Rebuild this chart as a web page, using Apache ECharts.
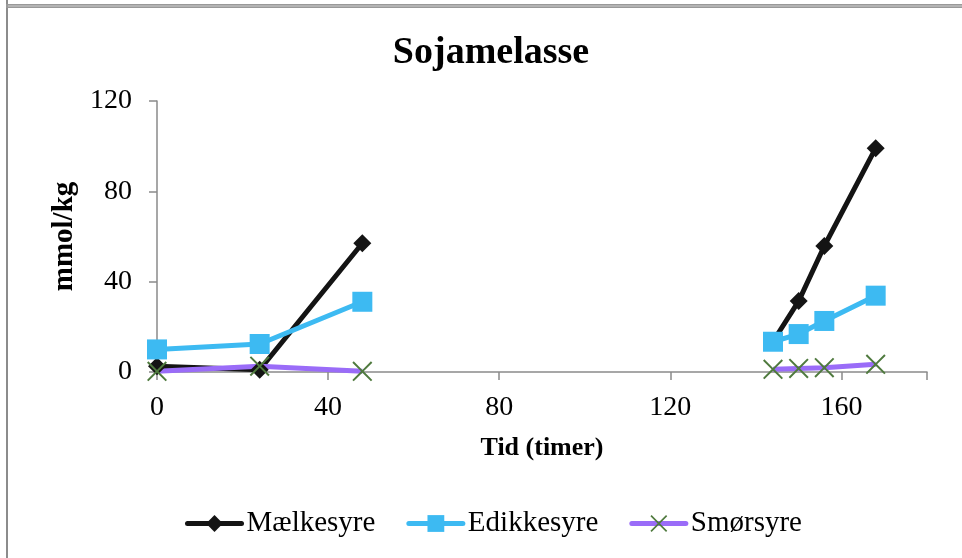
<!DOCTYPE html>
<html>
<head>
<meta charset="utf-8">
<script src="https://cdn.jsdelivr.net/npm/echarts@6/dist/echarts.min.js"></script>
<style>
  html, body { margin: 0; padding: 0; background: #fff; }
  #chart { width: 962px; height: 558px; }
</style>
</head>
<body>
<div id="chart"></div>
<script>
// Sampling times (hours); null marks the gap between the two sampling runs
const times = [0, 24, 48, null, 144, 150, 156, 168];
const maelkesyre = [2.5, 1, 57, null, 13.5, 31.4, 55.8, 99.1];
const edikkesyre = [10, 12.4, 31.1, null, 13.4, 16.8, 22.6, 33.8];
const smoersyre = [0.3, 2.6, 0.3, null, 1.2, 1.6, 1.9, 3.4];
const seriesNames = ['Mælkesyre', 'Edikkesyre', 'Smørsyre'];
const xTicks = [0, 40, 80, 120, 160];
const yTicks = [0, 40, 80, 120];

// Pair times with values; a null entry becomes '-' so the line breaks there
function pairs(values) {
  return times.map((t, i) => (t === null || values[i] === null) ? ['-', '-'] : [t, values[i]]);
}

const serif = '"Liberation Serif", "Times New Roman", serif';
const axisGray = '#8a8a8a';
const crossPath = 'path://M0,1.4L1.4,0L10,8.6L18.6,0L20,1.4L11.4,10L20,18.6L18.6,20L10,11.4L1.4,20L0,18.6L8.6,10Z';

const chart = echarts.init(document.getElementById('chart'), null, { renderer: 'canvas' });
chart.setOption({
  animation: false,
  backgroundColor: '#fff',
  title: {
    text: 'Sojamelasse',
    left: 486,
    textAlign: 'center',
    top: 29,
    textStyle: { fontFamily: serif, fontSize: 38, fontWeight: 'bold', color: '#000' }
  },
  legend: {
    data: seriesNames,
    left: 185,
    top: 509,
    padding: 0,
    itemWidth: 54,
    itemHeight: 21,
    itemGap: 31,
    lineStyle: { width: 5, cap: 'round' },
    textStyle: { fontFamily: serif, fontSize: 29, color: '#000' }
  },
  grid: { left: 157, right: 35, top: 101, bottom: 186, containLabel: false },
  xAxis: {
    type: 'value',
    min: 0,
    max: 180,
    interval: 40,
    name: 'Tid (timer)',
    nameLocation: 'middle',
    nameGap: 63,
    nameTextStyle: { fontFamily: serif, fontSize: 26, fontWeight: 'bold', color: '#000' },
    axisLine: { show: true, lineStyle: { color: axisGray, width: 1.5 } },
    axisTick: { show: true, length: 8, lineStyle: { color: axisGray, width: 1.5 } },
    splitLine: { show: false },
    axisLabel: {
      margin: 22,
      fontFamily: serif, fontSize: 28, color: '#000',
      formatter: v => xTicks.includes(v) ? String(v) : ''
    }
  },
  yAxis: {
    type: 'value',
    min: 0,
    max: 120,
    interval: 40,
    name: 'mmol/kg',
    nameLocation: 'middle',
    nameGap: 74,
    nameTextStyle: { fontFamily: serif, fontSize: 29, fontWeight: 'bold', color: '#000' },
    axisLine: { show: true, lineStyle: { color: axisGray, width: 1.5 } },
    axisTick: { show: true, length: 8, lineStyle: { color: axisGray, width: 1.5 } },
    splitLine: { show: false },
    axisLabel: {
      margin: 25,
      fontFamily: serif, fontSize: 28, color: '#000',
      formatter: v => yTicks.includes(v) ? String(v) : ''
    }
  },
  graphic: [
    { type: 'rect', silent: true, shape: { x: 6, y: 0, width: 2, height: 558 }, style: { fill: '#8c8c8c' } },
    { type: 'rect', silent: true, shape: { x: 6, y: 4, width: 956, height: 4 }, style: { fill: '#999' } },
    { type: 'rect', silent: true, shape: { x: 8, y: 5.5, width: 954, height: 1 }, style: { fill: '#d0d0d0' } }
  ],
  series: [
    {
      name: seriesNames[0],
      type: 'line',
      data: pairs(maelkesyre),
      connectNulls: false,
      symbol: 'diamond',
      symbolSize: 18,
      showAllSymbol: true,
      lineStyle: { color: '#141414', width: 5 },
      itemStyle: { color: '#141414' }
    },
    {
      name: seriesNames[1],
      type: 'line',
      data: pairs(edikkesyre),
      connectNulls: false,
      symbol: 'rect',
      symbolSize: 20,
      showAllSymbol: true,
      lineStyle: { color: '#3dbaf2', width: 5 },
      itemStyle: { color: '#3dbaf2' }
    },
    {
      name: seriesNames[2],
      type: 'line',
      data: pairs(smoersyre),
      connectNulls: false,
      symbol: crossPath,
      symbolSize: 20,
      showAllSymbol: true,
      lineStyle: { color: '#9a6cf8', width: 5 },
      itemStyle: { color: '#4f7a3e' }
    }
  ]
});
</script>
</body>
</html>
